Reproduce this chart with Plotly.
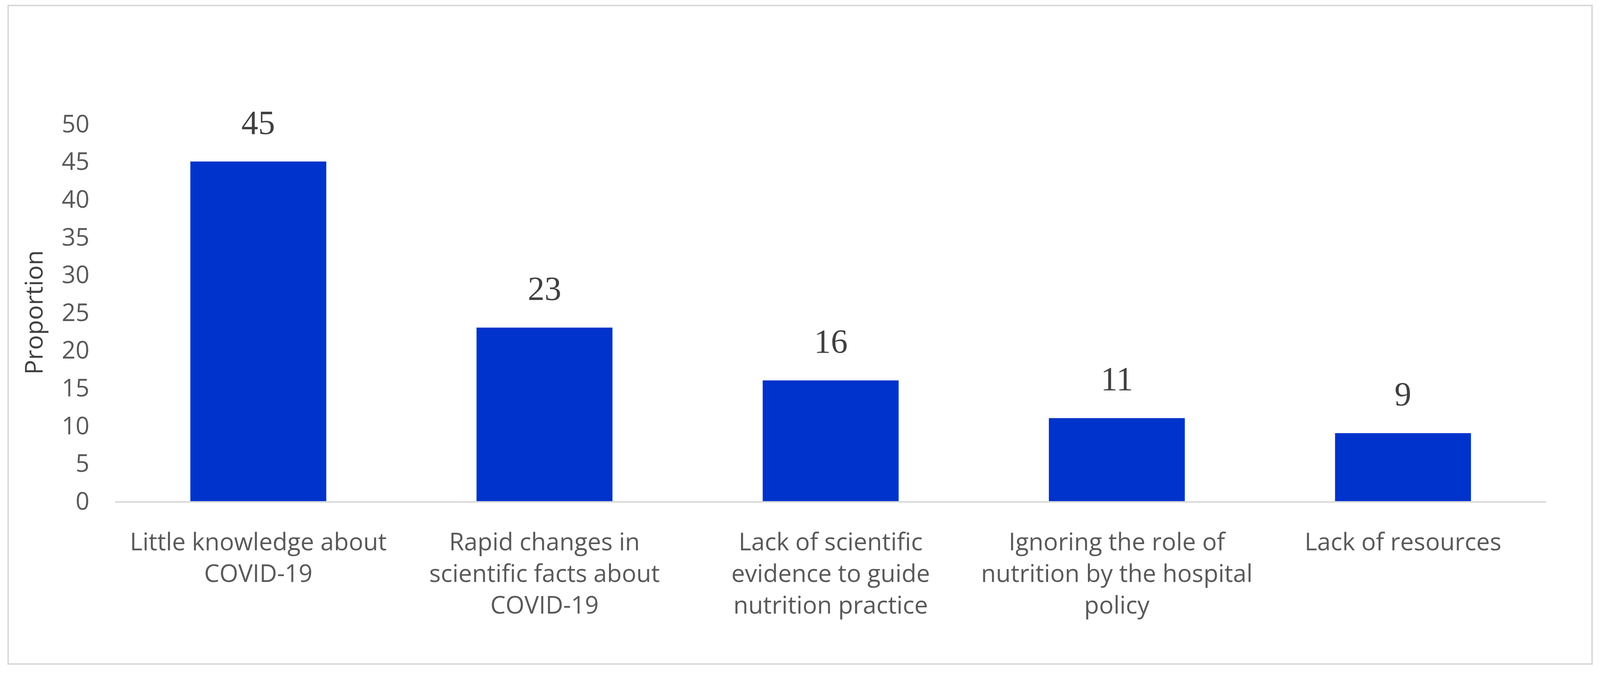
import plotly.graph_objects as go

categories = [
    "Little knowledge about<br>COVID-19",
    "Rapid changes in<br>scientific facts about<br>COVID-19",
    "Lack of scientific<br>evidence to guide<br>nutrition practice",
    "Ignoring the role of<br>nutrition by the hospital<br>policy",
    "Lack of resources",
]
values = [45, 23, 16, 11, 9]
y_ticks = [0, 5, 10, 15, 20, 25, 30, 35, 40, 45, 50]

W, H = 4318, 1741
ml, mr, mt, mb = 311, 146, 317, 458
pw, ph = W - ml - mr, H - mt - mb

fig = go.Figure()
fig.add_trace(go.Bar(
    x=categories, y=values,
    marker=dict(color="#0033CC", line=dict(width=0)),
    width=0.475,
    hoverinfo="skip",
))

for c, v in zip(categories, values):
    fig.add_annotation(
        x=c, y=v, text=str(v), showarrow=False,
        yanchor="bottom", yshift=50,
        font=dict(family="Liberation Serif, DejaVu Serif, serif", size=86, color="#404040"),
    )

# outer chart border
bx0, by0, bx1, by1 = 22, 14, 4296, 1700
fig.add_shape(
    type="rect", xref="paper", yref="paper",
    x0=(bx0 - ml) / pw, x1=(bx1 - ml) / pw,
    y0=1 - (by0 - mt) / ph, y1=1 - (by1 - mt) / ph,
    line=dict(color="#D9D9D9", width=4),
    fillcolor="rgba(0,0,0,0)", layer="below",
)

font_sans = "Open Sans, Noto Sans, sans-serif"
fig.update_layout(
    width=W, height=H,
    margin=dict(l=ml, r=mr, t=mt, b=mb),
    paper_bgcolor="white", plot_bgcolor="white",
    showlegend=False,
    bargap=0.525,
    xaxis=dict(
        showgrid=False, zeroline=False,
        showline=True, linecolor="#D9D9D9", linewidth=4,
        ticks="", ticklabelstandoff=48,
        tickfont=dict(family=font_sans, size=62, color="#595959"),
    ),
    yaxis=dict(
        range=[0, 50], tickvals=y_ticks,
        showgrid=False, zeroline=False, showline=False,
        ticks="", ticklabelstandoff=68,
        tickfont=dict(family=font_sans, size=62, color="#595959"),
        title=dict(text="Proportion", standoff=30,
                   font=dict(family=font_sans, size=63, color="#404040")),
    ),
)

# fit the figure to the actual browser viewport (scale horizontal layout)
fit = """
document.body.style.margin = '0';
document.body.style.overflow = 'hidden';
var gd = document.getElementById('{plot_id}');
var iw = window.innerWidth;
if (iw && Math.abs(iw - %d) > 2) {
  var k = iw / %d;
  Plotly.relayout(gd, {
    'width': iw,
    'margin.l': Math.round(%d * k),
    'margin.r': Math.round(%d * k),
    'yaxis.ticklabelstandoff': Math.round(68 * k),
    'yaxis.title.standoff': Math.round(30 * k)
  });
}
""" % (W, W, ml, mr)
fig.write_html("out.html", post_script=fit, config={"displayModeBar": False})
